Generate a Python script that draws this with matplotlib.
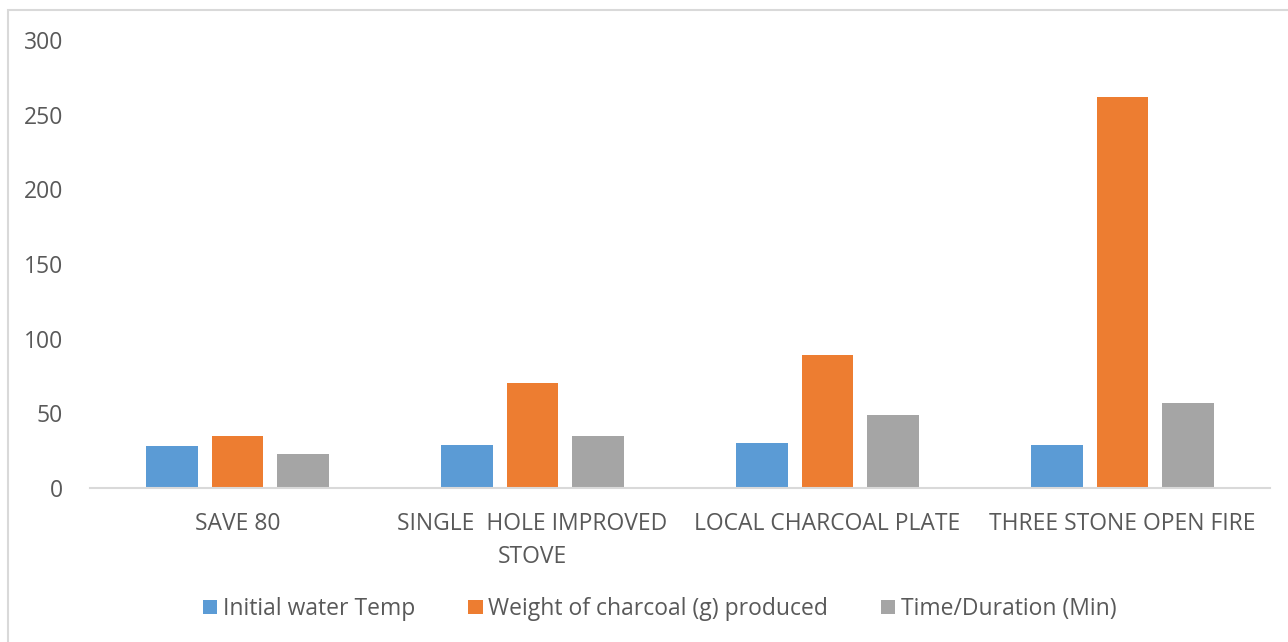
import matplotlib.pyplot as plt
import numpy as np

plt.rcParams['font.family'] = ['Open Sans', 'DejaVu Sans']

# Categorías y series
categorias = ['SAVE 80', 'SINGLE  HOLE IMPROVED\nSTOVE', 'LOCAL CHARCOAL PLATE', 'THREE STONE OPEN FIRE']
temp_inicial = [28, 29, 30, 29]
peso_carbon = [35, 70, 89, 262]
duracion = [23, 35, 49, 57]

series = [
    ('Initial water Temp', temp_inicial, '#5b9bd5'),
    ('Weight of charcoal (g) produced', peso_carbon, '#ed7d31'),
    ('Time/Duration (Min)', duracion, '#a5a5a5'),
]

fig = plt.figure(figsize=(12.88, 6.42), dpi=100)
ax = fig.add_axes([90 / 1288, 1 - 488 / 642, 1180 / 1288, 448 / 642])

x = np.arange(len(categorias))
ancho = 0.176
paso = 0.222
for i, (nombre, valores, color) in enumerate(series):
    ax.bar(x + (i - 1) * paso, valores, ancho, color=color, label=nombre, zorder=2)

ax.set_xlim(-0.5, len(categorias) - 0.5)
ax.set_ylim(0, 300)
ax.set_yticks(range(0, 301, 50))
ax.set_xticks(x)
ax.set_xticklabels(categorias, fontsize=16.5, color='#595959', linespacing=1.5)
ax.tick_params(axis='y', labelsize=16.5, labelcolor='#595959', length=0, pad=19.5)
ax.tick_params(axis='x', length=0, pad=17)
for lado in ['top', 'right', 'left']:
    ax.spines[lado].set_visible(False)
ax.spines['bottom'].set_color('#d9d9d9')
ax.spines['bottom'].set_linewidth(1.5)

ax.legend(loc='center', bbox_to_anchor=(660 / 1288, 1 - 609 / 642), bbox_transform=fig.transFigure,
          ncol=3, frameon=False, fontsize=16.5, labelcolor='#595959',
          handlelength=0.62, handleheight=0.62, handletextpad=0.26, columnspacing=2.3)

# Borde del área del gráfico
borde = plt.Rectangle((8 / 1288, -0.1), 1.2, 1 - 10 / 642 + 0.1, transform=fig.transFigure,
                      fill=False, edgecolor='#d9d9d9', linewidth=1.5)
fig.patches.append(borde)

fig.savefig('out.png', dpi=100)
